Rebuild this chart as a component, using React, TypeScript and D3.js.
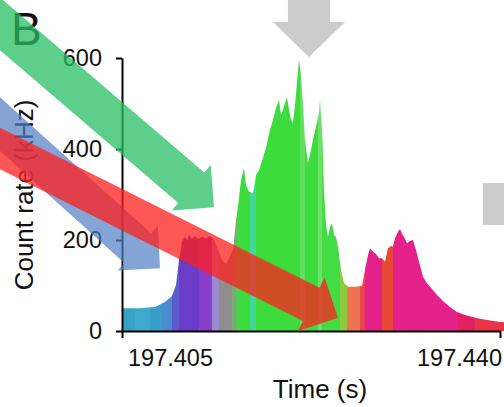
import React, { useEffect, useRef } from 'react';
import * as d3 from 'd3';

// count rate trace (kHz) vs time (s)
const times = [
  197.405, 197.40667, 197.40806, 197.40898, 197.40963, 197.41, 197.41028, 197.41056,
  197.41083, 197.41102, 197.4112, 197.41148, 197.41176, 197.41204, 197.41241, 197.41278,
  197.41315, 197.41352, 197.41389, 197.41426, 197.41463, 197.415, 197.41528, 197.41556,
  197.41574, 197.41602, 197.4163, 197.41648, 197.41676, 197.41713, 197.41741, 197.41769,
  197.41806, 197.41833, 197.4187, 197.41898, 197.41926, 197.41954, 197.41972, 197.41991,
  197.42009, 197.42028, 197.42046, 197.42065, 197.42083, 197.42102, 197.4212, 197.42139,
  197.42157, 197.42176, 197.42194, 197.42222, 197.4225, 197.42278, 197.42306, 197.42324,
  197.42333, 197.42352, 197.4237, 197.42389, 197.42407, 197.42426, 197.42444, 197.42463,
  197.42481, 197.425, 197.42528, 197.42556, 197.42593, 197.42657, 197.42722, 197.4275,
  197.42778, 197.42796, 197.42824, 197.42852, 197.4288, 197.42907, 197.42935, 197.42963,
  197.42991, 197.43009, 197.43028, 197.43056, 197.43074, 197.43093, 197.43111, 197.43139,
  197.43167, 197.43194, 197.43222, 197.4325, 197.43287, 197.43324, 197.43361, 197.43417,
  197.43472, 197.43537, 197.43602, 197.43676, 197.43769, 197.4388, 197.44, 197.4404
];
const rates = [
  50, 50, 53, 64, 77, 101, 156, 196,
  207, 198, 211, 202, 209, 202, 207, 204,
  209, 200, 178, 156, 147, 165, 178, 244,
  273, 332, 358, 321, 306, 303, 343, 354,
  382, 402, 442, 464, 490, 508, 475, 486,
  501, 514, 486, 464, 457, 497, 545, 596,
  563, 497, 420, 369, 398, 431, 459, 479,
  508, 442, 310, 233, 207, 229, 237, 211,
  207, 185, 134, 105, 97, 97, 99, 134,
  167, 182, 174, 169, 160, 160, 152, 182,
  187, 185, 204, 218, 224, 213, 207, 193,
  198, 200, 178, 152, 119, 105, 95, 79,
  66, 53, 42, 35, 29, 24, 20, 19
];

// colour of the trace by time window (start times)
const segStarts = [
  197.405, 197.4062, 197.40759, 197.4087, 197.40963, 197.41028, 197.41213, 197.41333,
  197.41398, 197.41519, 197.41565, 197.41685, 197.41741, 197.42148, 197.42194, 197.42315,
  197.42352, 197.42519, 197.42583, 197.42704, 197.4275, 197.42907, 197.43009, 197.43611,
  197.43769
];
const segColors = [
  '#36a2c6', '#3ea9cc', '#389fc8', '#4a8cd0', '#5c5ccc', '#6a3cc8', '#8a3ecc', '#9a8ad2',
  '#8e8e8e', '#72b070', '#3ddc3d', '#44d898', '#3ddc3d', '#62e060', '#3ddc3d', '#6ce068',
  '#44dc44', '#8ccc3c', '#ec7450', '#e84450', '#e4208a', '#e84838', '#e4208a', '#e42064',
  '#e83444'
];

const yTicks = [0, 200, 400, 600];
const xTicks = [197.405, 197.44];

// overlay arrows: tip in data units, direction in degrees (screen), length in px
const arrows = [
  { tipT: 197.42231, tipR: 602, angle: 90, len: 100, color: '#cccccc', opacity: 1, shaftW: 42, headW: 72, headL: 35 },
  { tipT: 197.43843, tipR: 279, angle: 180, len: 60, color: '#cccccc', opacity: 1, shaftW: 42, headW: 42, headL: 0 },
  { tipT: 197.40852, tipR: 138, angle: 42, len: 300, color: 'rgb(80,125,195)', opacity: 0.7, shaftW: 40, headW: 60, headL: 30 },
  { tipT: 197.425, tipR: 29, angle: 26.6, len: 440, color: 'rgb(255,30,30)', opacity: 0.75, shaftW: 37, headW: 60, headL: 30 },
  { tipT: 197.41352, tipR: 272, angle: 40.6, len: 340, color: 'rgb(40,190,100)', opacity: 0.75, shaftW: 40, headW: 60, headL: 30 }
];

const FONT = "'Liberation Sans', Arial, Helvetica, sans-serif";

const App = () => {
  const ref = useRef<SVGSVGElement>(null);

  useEffect(() => {
    const svg = d3.select(ref.current);
    svg.selectAll('*').remove();

    const x = d3.scaleLinear().domain([197.405, 197.44]).range([122, 500]);
    const y = d3.scaleLinear().domain([0, 600]).range([331, 58]);

    const data = times.map((t, i) => ({ t, r: rates[i] }));
    const area = d3
      .area<{ t: number; r: number }>()
      .x((d) => x(d.t))
      .y0(y(0))
      .y1((d) => y(d.r));

    svg
      .append('clipPath')
      .attr('id', 'traceClip')
      .append('path')
      .attr('d', area(data));

    const tEnd = times[times.length - 1];
    svg
      .append('g')
      .attr('clip-path', 'url(#traceClip)')
      .selectAll('rect')
      .data(segStarts)
      .enter()
      .append('rect')
      .attr('x', (d) => x(d))
      .attr('y', 0)
      .attr('width', (d, i) => (i < segStarts.length - 1 ? x(segStarts[i + 1]) : x(tEnd) + 2) - x(d) + 0.5)
      .attr('height', y(0))
      .attr('fill', (d, i) => segColors[i]);

    // axes
    const yAxis = svg
      .append('g')
      .attr('transform', `translate(${x(197.405)},0)`)
      .call(d3.axisLeft(y).tickValues(yTicks).tickSize(6).tickSizeOuter(0).tickPadding(14));
    yAxis.select('.domain').attr('stroke-width', 2);
    yAxis.selectAll('.tick line').attr('stroke-width', 2);
    yAxis.selectAll('text').style('font-family', FONT).style('font-size', '23.5px').attr('fill', '#111');

    const xAxis = svg
      .append('g')
      .attr('transform', `translate(0,${y(0)})`)
      .call(d3.axisBottom(x).tickValues(xTicks).tickSize(7).tickSizeOuter(0).tickFormat(d3.format('.3f')));
    xAxis.select('.domain').attr('stroke-width', 2);
    xAxis.selectAll('.tick line').attr('stroke-width', 2);
    xAxis
      .selectAll('text')
      .style('font-family', FONT)
      .style('font-size', '23.5px')
      .attr('fill', '#111')
      .attr('y', 35)
      .attr('dy', 0)
      .attr('dx', (d, i) => (i === 0 ? 48 : -41));

    svg
      .append('text')
      .attr('transform', 'translate(33,195) rotate(-90)')
      .attr('text-anchor', 'middle')
      .style('font-family', FONT)
      .style('font-size', '26px')
      .attr('fill', '#111')
      .text('Count rate (kHz)');

    svg
      .append('text')
      .attr('x', 320)
      .attr('y', 398)
      .attr('text-anchor', 'middle')
      .style('font-family', FONT)
      .style('font-size', '26px')
      .attr('fill', '#111')
      .text('Time (s)');

    svg
      .append('text')
      .attr('x', 11)
      .attr('y', 45)
      .style('font-family', FONT)
      .style('font-size', '46px')
      .attr('fill', '#111')
      .text('B');

    // arrows
    const arrowPoints = (a: (typeof arrows)[number]) => {
      const px = x(a.tipT);
      const py = y(a.tipR);
      const rad = (a.angle * Math.PI) / 180;
      const ux = Math.cos(rad);
      const uy = Math.sin(rad);
      const nx = -uy;
      const ny = ux;
      const tx = px - ux * a.len;
      const ty = py - uy * a.len;
      const bx = px - ux * a.headL;
      const by = py - uy * a.headL;
      const s = a.shaftW / 2;
      const h = a.headW / 2;
      return [
        [tx + nx * s, ty + ny * s],
        [bx + nx * s, by + ny * s],
        [bx + nx * h, by + ny * h],
        [px, py],
        [bx - nx * h, by - ny * h],
        [bx - nx * s, by - ny * s],
        [tx - nx * s, ty - ny * s]
      ]
        .map((p) => p.join(','))
        .join(' ');
    };

    svg
      .selectAll('polygon.arrow')
      .data(arrows)
      .enter()
      .append('polygon')
      .attr('class', 'arrow')
      .attr('points', (d) => arrowPoints(d))
      .attr('fill', (d) => d.color)
      .attr('fill-opacity', (d) => d.opacity);
  }, []);

  return (
    <svg
      ref={ref}
      width={504}
      height={407}
      style={{ position: 'absolute', left: 0, top: 0, background: '#fff', overflow: 'hidden' }}
    />
  );
};

export default App;
